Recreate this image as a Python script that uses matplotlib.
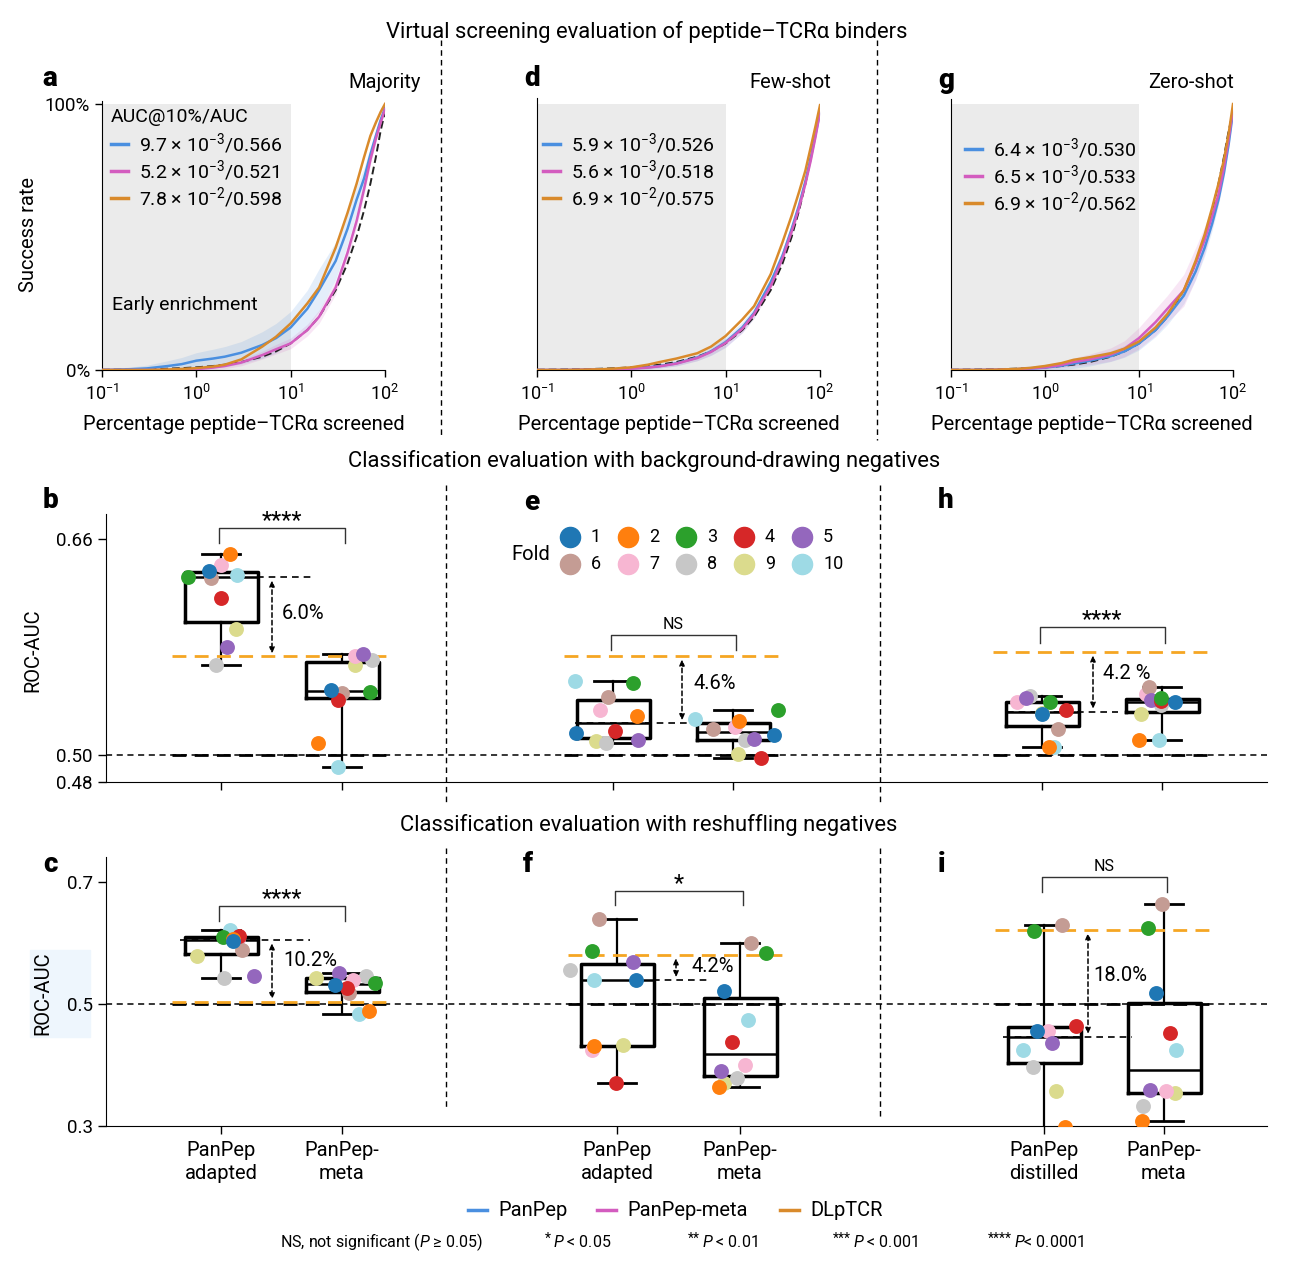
import numpy as np
import matplotlib
matplotlib.use('Agg')
import matplotlib.pyplot as plt
from matplotlib.lines import Line2D

plt.rcParams['font.family'] = ['Roboto', 'DejaVu Sans']
plt.rcParams['mathtext.fontset'] = 'custom'
plt.rcParams['mathtext.rm'] = 'Roboto'
plt.rcParams['mathtext.it'] = 'Roboto:italic'
plt.rcParams['mathtext.bf'] = 'Roboto:bold'

W, H = 1298, 1266

# ---------------- data: virtual screening curves (success rate, %) ----------------
screened = [0.1, 0.2, 0.3, 0.5, 0.7, 1, 1.5, 2, 3, 5, 7, 10, 15, 20, 30, 40, 50, 60, 70, 80, 90, 100]
random_rate = [0.1, 0.2, 0.3, 0.5, 0.7, 1, 1.5, 2, 3, 5, 7, 10, 15, 20, 30, 40, 50, 60, 70, 80, 90, 97]

maj_panpep = [0, 0.3, 0.6, 1.5, 2.2, 3.5, 4.3, 5, 6.5, 9.4, 12, 16, 23, 30, 41, 53, 64, 72, 81, 88, 94, 98.5]
maj_meta = [0, 0, 0, 0, 0.1, 0.3, 0.9, 1.5, 2.8, 5.6, 7.8, 10, 15, 20, 31, 44, 56, 68, 79, 87, 93, 98]
maj_dlptcr = [0, 0, 0, 0.2, 0.4, 0.7, 1.3, 2, 4, 8.8, 12.5, 17.5, 25, 31, 46, 59, 70, 80, 88, 93, 97, 100]
maj_panpep_band = [0.3, 0.8, 1.2, 2, 2.5, 3, 3.5, 3.8, 4.2, 5, 5.5, 6, 7, 8, 7, 6, 5, 4, 3, 2, 1.5, 0.5]
maj_meta_band = [0, 0, 0, 0.3, 0.4, 0.5, 0.8, 1, 1.2, 1.5, 1.8, 2, 2.2, 2.5, 2.5, 2.5, 2.5, 2, 2, 1.5, 1, 0.5]

few_panpep = [0, 0, 0.1, 0.2, 0.3, 0.6, 1.0, 1.5, 2.5, 4.7, 7, 10.5, 16, 21.5, 33, 43, 53, 62, 71, 80, 89, 97]
few_meta = [0, 0, 0.1, 0.2, 0.3, 0.5, 0.9, 1.4, 2.4, 4.5, 6.8, 10.2, 15.5, 21, 31.5, 42, 52, 61, 70, 79, 88, 97]
few_dlptcr = [0, 0, 0.1, 0.3, 0.6, 1.0, 2.0, 3, 4.3, 6.3, 8.8, 12.8, 19, 24, 36, 48, 58, 67, 75, 84, 92, 99.6]
few_panpep_band = [0, 0, 0.1, 0.2, 0.3, 0.5, 0.7, 0.8, 1, 1.2, 1.5, 2, 2, 2, 2, 2, 2, 2, 1.5, 1.5, 1, 0.5]
few_meta_band = [0, 0, 0.1, 0.2, 0.3, 0.4, 0.5, 0.6, 0.8, 1, 1.2, 1.5, 1.5, 1.5, 1.5, 1.5, 1.5, 1.5, 1, 1, 1, 0.5]

zero_panpep = [0, 0, 0.1, 0.3, 0.5, 0.9, 1.6, 2.4, 3.5, 5.2, 7, 10, 15, 20, 28, 37, 46, 55, 64, 74, 85, 97]
zero_meta = [0, 0, 0.1, 0.3, 0.6, 1.0, 1.9, 3, 4, 5.8, 8, 12, 18, 23, 30, 40, 49, 58, 66, 76, 87, 98]
zero_dlptcr = [0, 0, 0.1, 0.4, 0.8, 1.5, 2.6, 3.8, 4.8, 6.3, 8, 10.7, 16, 21, 30, 41, 51, 61, 70, 79, 89, 100]
zero_panpep_band = [0.3, 0.4, 0.5, 0.8, 1, 1.2, 1.5, 1.8, 2, 2, 2.2, 2.5, 2.5, 3, 3, 3, 3, 2.5, 2, 2, 1.5, 0.5]
zero_meta_band = [0, 0, 0.1, 0.3, 0.5, 0.8, 1, 1.5, 2, 2.5, 3, 4, 5, 5, 6, 6, 5, 4, 3, 2, 1.5, 0.5]

maj_labels = ['9.7 × 10$^{-3}$/0.566', '5.2 × 10$^{-3}$/0.521', '7.8 × 10$^{-2}$/0.598']
few_labels = ['5.9 × 10$^{-3}$/0.526', '5.6 × 10$^{-3}$/0.518', '6.9 × 10$^{-2}$/0.575']
zero_labels = ['6.4 × 10$^{-3}$/0.530', '6.5 × 10$^{-3}$/0.533', '6.9 × 10$^{-2}$/0.562']

# ---------------- data: ROC-AUC per fold (folds 1..10) ----------------
b_adapted = [0.636, 0.649, 0.632, 0.616, 0.580, 0.631, 0.641, 0.567, 0.593, 0.633]
b_meta = [0.548, 0.509, 0.547, 0.541, 0.575, 0.546, 0.573, 0.570, 0.567, 0.491]
e_adapted = [0.516, 0.529, 0.553, 0.518, 0.511, 0.543, 0.533, 0.509, 0.510, 0.555]
e_meta = [0.515, 0.525, 0.533, 0.498, 0.512, 0.519, 0.521, 0.511, 0.501, 0.527]
h_distilled = [0.530, 0.506, 0.539, 0.533, 0.542, 0.519, 0.539, 0.544, 0.531, 0.506]
h_meta = [0.539, 0.511, 0.542, 0.540, 0.541, 0.550, 0.545, 0.537, 0.530, 0.511]
c_adapted = [0.603, 0.607, 0.610, 0.611, 0.546, 0.589, 0.606, 0.543, 0.579, 0.621]
c_meta = [0.531, 0.489, 0.534, 0.526, 0.551, 0.518, 0.540, 0.546, 0.543, 0.484]
f_adapted = [0.539, 0.431, 0.587, 0.370, 0.569, 0.639, 0.425, 0.556, 0.433, 0.539]
f_meta = [0.522, 0.364, 0.583, 0.437, 0.390, 0.600, 0.400, 0.379, 0.370, 0.474]
i_distilled = [0.456, 0.298, 0.620, 0.464, 0.436, 0.630, 0.456, 0.397, 0.357, 0.425]
i_meta = [0.518, 0.308, 0.624, 0.452, 0.359, 0.664, 0.357, 0.333, 0.354, 0.425]

dlptcr_auc = {'b': 0.573, 'e': 0.573, 'h': 0.576, 'c': 0.503, 'f': 0.580, 'i': 0.621}
gap_text = {'b': '6.0%', 'e': '4.6%', 'h': '4.2 %', 'c': '10.2%', 'f': '4.2%', 'i': '18.0%'}
sig_text = {'b': '****', 'e': 'NS', 'h': '****', 'c': '****', 'f': '*', 'i': 'NS'}

fold_names = ['1', '2', '3', '4', '5', '6', '7', '8', '9', '10']
fold_colors = ['#1f77b4', '#ff7f0e', '#2ca02c', '#d62728', '#9467bd',
               '#c49c94', '#f7b6d2', '#c7c7c7', '#dbdb8d', '#9edae5']
bot_ticklabels = ['PanPep\nadapted', 'PanPep-\nmeta', 'PanPep\nadapted', 'PanPep-\nmeta',
                  'PanPep\ndistilled', 'PanPep-\nmeta']
pvalue_notes = [('', 'NS, not significant ($P$ ≥ 0.05)'), ('*', '$P$ < 0.05'), ('**', '$P$ < 0.01'),
                ('***', '$P$ < 0.001'), ('****', '$P$< 0.0001')]

# jitter of the fold dots (px) - layout only
jit = {
    'b': ([-12, 9, -33, 0, 6, -10, 0, -5, 15, 16], [-11, -24, 28, -4, 21, 0, 13, 30, 13, -4]),
    'e': ([-37, 24, 20, 2, 25, -5, -13, -7, -17, -38], [41, 6, 45, 28, 21, -20, 2, 12, 5, -38]),
    'h': ([0, 7, 8, 24, -16, 16, -25, -12, 0, 12], [13, -23, -1, -1, -11, -13, -16, -1, -21, -3]),
    'c': ([12, 12, 2, 18, 33, 21, 17, 3, -24, 9], [-7, 27, 33, 5, -3, 7, 11, 24, -26, 17]),
    'f': ([19, -23, -25, -1, 16, -18, -25, -47, 6, -23], [-16, -21, 26, -8, -19, 11, 5, -3, -16, 8]),
    'i': ([-7, 21, -10, 32, 8, 18, 4, -11, 12, -21], [-8, -22, -16, 6, -14, -2, 2, -21, 11, 12]),
}
# annotation layout per panel: ref-line x0, x1, arrow x, text x (px from left box), text y, bracket y, leg
lay = {
    'b': (36, 92, 51, 61, 0.605, 0.668, 0.011),
    'e': (-38, 87, 69, 80, 0.553, 0.589, 0.011),
    'h': (-35, 76, 51, 61, 0.560, 0.595, 0.012),
    'c': (-41, 89, 51, 62, 0.572, 0.661, 0.025),
    'f': (36, 93, 59, 75, 0.561, 0.685, 0.023),
    'i': (-41, 88, 44, 49, 0.546, 0.708, 0.024),
}

C_PANPEP = '#4a8fe0'
C_META = '#d35cbf'
C_DLPTCR = '#d98a2b'
C_DL_LINE = '#f5a623'


def rect(l, t, r, b):
    return [l / W, 1 - b / H, (r - l) / W, (b - t) / H]


def ftext(x, y, s, **kw):
    fig.text(x / W, 1 - y / H, s, **kw)


def fline(xs, ys, **kw):
    fig.add_artist(Line2D([x / W for x in xs], [1 - y / H for y in ys], **kw))


fig = plt.figure(figsize=(W / 100, H / 100), dpi=100)


def curve_panel(ax, blue, mag, orng, bblue, bmag, top):
    ax.set_xscale('log')
    ax.set_xlim(0.1, 100)
    ax.set_ylim(0, top)
    ax.fill_between([0.1, 10], 0, 100, color='#ebebeb', lw=0, zorder=0)
    x = np.array(screened)
    for vals, band, col in [(blue, bblue, C_PANPEP), (mag, bmag, C_META)]:
        v = np.array(vals)
        bd = np.array(band)
        ax.fill_between(x, np.clip(v - bd, 0, None), v + bd, color=col, alpha=0.15, lw=0, zorder=1)
    ax.plot(x, random_rate, color='#222', ls=(0, (4, 2)), lw=1.4, zorder=2)
    ax.plot(x, blue, color=C_PANPEP, lw=1.8, zorder=3)
    ax.plot(x, mag, color=C_META, lw=1.8, zorder=3)
    ax.plot(x, orng, color=C_DLPTCR, lw=1.8, zorder=4)
    for s in ['top', 'right']:
        ax.spines[s].set_visible(False)
    ax.set_xticks([0.1, 1, 10, 100])
    ax.set_xticklabels(['10$^{-1}$', '10$^{0}$', '10$^{1}$', '10$^{2}$'], fontsize=13)
    ax.minorticks_off()
    ax.tick_params(axis='x', length=5, width=1, pad=5)
    ax.set_xlabel('Percentage peptide–TCRα screened', fontsize=14.5, labelpad=8)


ax_a = fig.add_axes(rect(102, 101, 385, 370))
ax_d = fig.add_axes(rect(537, 98, 820, 370))
ax_g = fig.add_axes(rect(951, 99, 1233, 370))
curve_panel(ax_a, maj_panpep, maj_meta, maj_dlptcr, maj_panpep_band, maj_meta_band, 101.1)
curve_panel(ax_d, few_panpep, few_meta, few_dlptcr, few_panpep_band, few_meta_band, 102.3)
curve_panel(ax_g, zero_panpep, zero_meta, zero_dlptcr, zero_panpep_band, zero_meta_band, 101.9)
ax_a.set_yticks([0, 100])
ax_a.set_yticklabels(['0%', '100%'], fontsize=13.5)
ax_a.tick_params(axis='y', length=5, width=1)
for ax in [ax_d, ax_g]:
    ax.tick_params(axis='y', left=False, labelleft=False)
ftext(112, 305, 'Early enrichment', fontsize=14, va='center')

# curve legends
for labels, x0, y0 in [(maj_labels, 111, 144), (few_labels, 543, 144), (zero_labels, 965, 149)]:
    for k, (lab, col) in enumerate(zip(labels, [C_PANPEP, C_META, C_DLPTCR])):
        y = y0 + 27 * k
        fline([x0, x0 + 17], [y, y], color=col, lw=2.5)
        ftext(x0 + 28, y, lab, fontsize=14, va='center')
ftext(111, 117, 'AUC@10%/AUC', fontsize=14, va='center')
fig.text(29 / W, 1 - 235 / H, 'Success rate', rotation=90, fontsize=14.5, ha='center', va='center')


def box_panel(ax, key, p0, p1, left, right):
    rx0, rx1, axx, tx, ty, by, leg = lay[key]
    dl = dlptcr_auc[key]
    ax.boxplot([left, right], positions=[p0, p1], widths=73, whis=(0, 100), showfliers=False,
               capwidths=38, manage_ticks=False,
               boxprops=dict(lw=2.5, color='k'), medianprops=dict(color='k', lw=1.8),
               whiskerprops=dict(lw=1.6, color='k'), capprops=dict(lw=2, color='k'), zorder=3)
    jl, jr = jit[key]
    for vals, jj, p in [(left, jl, p0), (right, jr, p1)]:
        for k in reversed(range(10)):
            ax.scatter(p + jj[k], vals[k], s=115, color=fold_colors[k], lw=0, zorder=5)
    x0, x1 = p0 - 49, p1 + 48
    ax.plot([x0, x1], [0.5, 0.5], color='k', ls=(0, (5, 3)), lw=2, zorder=2)
    ax.plot([x0, x1], [dl, dl], color=C_DL_LINE, ls=(0, (5, 3)), lw=2, zorder=4)
    med = float(np.median(left))
    ax.plot([p0 + rx0, p0 + rx1], [med, med], color='k', ls=(0, (4, 3)), lw=1.2, zorder=2)
    ax.annotate('', xy=(p0 + axx, dl), xytext=(p0 + axx, med),
                arrowprops=dict(arrowstyle='<|-|>,head_length=0.35,head_width=0.15', color='k',
                                lw=1.1, ls=(0, (3, 2)), shrinkA=2, shrinkB=2), zorder=4)
    ax.text(p0 + tx, ty, gap_text[key], fontsize=14.5, va='center', ha='left', zorder=6)
    ax.plot([p0 - 2, p0 - 2, p1 + 3, p1 + 3], [by - leg, by, by, by - leg], color='#333', lw=1)
    stars = '*' in sig_text[key]
    ax.annotate(sig_text[key], ((p0 + p1) / 2, by), xytext=(0, -3 if stars else 2),
                textcoords='offset points', ha='center', va='bottom', fontsize=17 if stars else 11.5)


def style_row(ax):
    ax.set_xlim(106, 1267)
    for s in ['top', 'right']:
        ax.spines[s].set_visible(False)
    ax.axhline(0.5, color='k', ls=(0, (4, 3)), lw=1.1, zorder=1)
    ax.tick_params(axis='both', length=6, width=1, labelsize=13.5)


ax_mid = fig.add_axes(rect(106, 514, 1267, 782))
style_row(ax_mid)
ax_mid.set_ylim(0.48, 0.48 + 268 / 1350)
mid_pos = [221, 342, 613, 733, 1042, 1162]
box_panel(ax_mid, 'b', mid_pos[0], mid_pos[1], b_adapted, b_meta)
box_panel(ax_mid, 'e', mid_pos[2], mid_pos[3], e_adapted, e_meta)
box_panel(ax_mid, 'h', mid_pos[4], mid_pos[5], h_distilled, h_meta)
ax_mid.set_xticks(mid_pos)
ax_mid.set_xticklabels([])
ax_mid.set_yticks([0.48, 0.50, 0.66])
ax_mid.set_yticklabels(['0.48', '0.50', '0.66'])

ax_bot = fig.add_axes(rect(106, 857, 1267, 1126))
style_row(ax_bot)
ax_bot.set_ylim(0.3, 0.3 + 269 / 610)
bot_pos = [221, 342, 617, 740, 1044, 1164]
box_panel(ax_bot, 'c', bot_pos[0], bot_pos[1], c_adapted, c_meta)
box_panel(ax_bot, 'f', bot_pos[2], bot_pos[3], f_adapted, f_meta)
box_panel(ax_bot, 'i', bot_pos[4], bot_pos[5], i_distilled, i_meta)
ax_bot.set_xticks(bot_pos)
ax_bot.set_xticklabels(bot_ticklabels, fontsize=14.5, linespacing=1.25)
ax_bot.tick_params(axis='x', pad=5)
ax_bot.set_yticks([0.3, 0.5, 0.7])
ax_bot.set_yticklabels(['0.3', '0.5', '0.7'])

fig.patches.append(plt.Rectangle((30 / W, 1 - 1037 / H), 60 / W, 87 / H, color='#eef6fd',
                                 transform=fig.transFigure, zorder=-5))
fig.text(33 / W, 1 - 650 / H, 'ROC-AUC', rotation=90, fontsize=14.5, ha='center', va='center')
fig.text(43 / W, 1 - 993 / H, 'ROC-AUC', rotation=90, fontsize=14.5, ha='center', va='center')

# fold legend
ftext(531, 554, 'Fold', fontsize=14.5, va='center', ha='center')
for k, (name, col) in enumerate(zip(fold_names, fold_colors)):
    cx = 570 + 58 * (k % 5)
    cy = 537 + 27 * (k // 5)
    fig.add_artist(Line2D([cx / W], [1 - cy / H], marker='o', ms=14.5, color=col, lw=0))
    ftext(cx + 21, cy, name, fontsize=13, va='center')

# titles, letters
ftext(647, 32, 'Virtual screening evaluation of peptide–TCRα binders', fontsize=15.8, ha='center', va='center')
ftext(644, 461, 'Classification evaluation with background-drawing negatives', fontsize=15.8, ha='center', va='center')
ftext(649, 825, 'Classification evaluation with reshuffling negatives', fontsize=15.8, ha='center', va='center')
for letter, x, y in [('a', 50, 78), ('d', 532, 78), ('g', 946, 80), ('b', 50, 500), ('e', 532, 502),
                     ('h', 946, 500), ('c', 50, 865), ('f', 528, 864), ('i', 942, 864)]:
    ftext(x, y, letter, fontsize=20, fontweight='heavy', ha='center', va='center')
for s, x in [('Majority', 421), ('Few-shot', 831), ('Zero-shot', 1234)]:
    ftext(x, 82, s, fontsize=14.5, ha='right', va='center')

# separators
dash = dict(color='k', lw=1, ls=(0, (4, 3)))
fline([441, 441], [40, 436], **dash)
fline([877, 877], [40, 440], **dash)
fline([446, 446], [485, 805], **dash)
fline([446, 446], [848, 1110], **dash)
fline([880, 880], [485, 805], **dash)
fline([880, 880], [848, 1120], **dash)

# bottom legend
for lab, x0, col in [('PanPep', 468, C_PANPEP), ('PanPep-meta', 597, C_META), ('DLpTCR', 780, C_DLPTCR)]:
    fline([x0, x0 + 19], [1210, 1210], color=col, lw=2.5)
    ftext(x0 + 30, 1210, lab, fontsize=14.5, va='center')
for (stars, rest), x in zip(pvalue_notes, [280, 545, 688, 833, 988]):
    if stars:
        ftext(x, 1239, stars, fontsize=10, va='center')
    ftext(x + 6 * len(stars) + (2 if stars else 0), 1242, rest, fontsize=11.5, va='center')

fig.savefig('out.png', dpi=100)
